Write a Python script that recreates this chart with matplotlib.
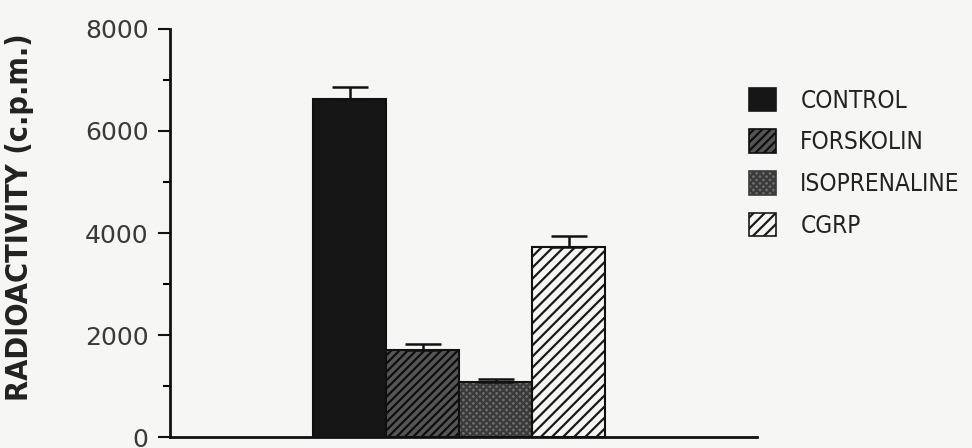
import matplotlib
matplotlib.use("Agg")
import matplotlib.pyplot as plt
from matplotlib.patches import Patch

# cAMP-related radioactivity per treatment (mean + s.e.m.)
groups = ["CONTROL", "FORSKOLIN", "ISOPRENALINE", "CGRP"]
means = [6620, 1710, 1085, 3725]
sems = [240, 110, 50, 215]
yticks = [0, 2000, 4000, 6000, 8000]

faces = ["#161616", "#555555", "#6e6e6e", "#f6f6f4"]
hatches = [None, "////", "xxxxx", "///"]
hatch_cols = ["#161616", "#0e0e0e", "#3a3a3a", "#1a1a1a"]

bg = "#f6f6f4"
fig = plt.figure(figsize=(9.72, 4.48), dpi=100, facecolor=bg)
ax = fig.add_axes([170 / 972, 11 / 448, 587 / 972, 408 / 448], facecolor=bg)

x = list(range(len(groups)))
plt.rcParams["hatch.linewidth"] = 1.6

# hatched fill first, then a plain black outline on top
for i in x:
    ax.bar(i, means[i], width=1.0, color=faces[i], hatch=hatches[i],
           edgecolor=hatch_cols[i], linewidth=0, zorder=2)
    ax.bar(i, means[i], width=1.0, fill=False, edgecolor="#111111",
           linewidth=1.5, zorder=3)

ax.errorbar(x, means, yerr=[[0] * 4, sems], fmt="none", ecolor="#111111",
            elinewidth=1.8, capsize=13, capthick=1.8, zorder=4)

ax.set_xlim(-0.5 - 143 / 73, 3.5 + 152 / 73)
ax.set_ylim(0, 8000)
ax.set_yticks(yticks)
ax.set_yticks(range(1000, 8000, 2000), minor=True)
ax.set_xticks([])
ax.tick_params(axis="y", which="major", direction="out", length=8.5, width=1.5,
               labelsize=18, pad=7, colors="#111111")
ax.tick_params(axis="y", which="minor", direction="out", length=5, width=1.5)
for lab in ax.get_yticklabels():
    lab.set_color("#3a3a3a")

for s in ["top", "right"]:
    ax.spines[s].set_visible(False)
for s in ["left", "bottom"]:
    ax.spines[s].set_linewidth(2)
    ax.spines[s].set_color("#111111")

fig.text(20 / 972, 0.515, "RADIOACTIVITY (c.p.m.)", rotation=90, ha="center",
         va="center", fontsize=22, fontweight="bold", fontstretch="condensed",
         color="#222222")

handles = []
for i, g in enumerate(groups):
    handles.append(Patch(facecolor=faces[i], hatch=hatches[i],
                         edgecolor=hatch_cols[i], linewidth=1.2, label=g))
leg = ax.legend(handles=handles, loc="upper left",
                bbox_to_anchor=(739 / 972, 1 - 78 / 448),
                bbox_transform=fig.transFigure, frameon=False,
                prop={"size": 17.5, "stretch": "condensed"},
                handlelength=1.12, handleheight=1.12,
                handletextpad=1.0, labelspacing=0.68, borderaxespad=0)
for t in leg.get_texts():
    t.set_color("#222222")

fig.savefig("out.png", dpi=100, facecolor=bg)
